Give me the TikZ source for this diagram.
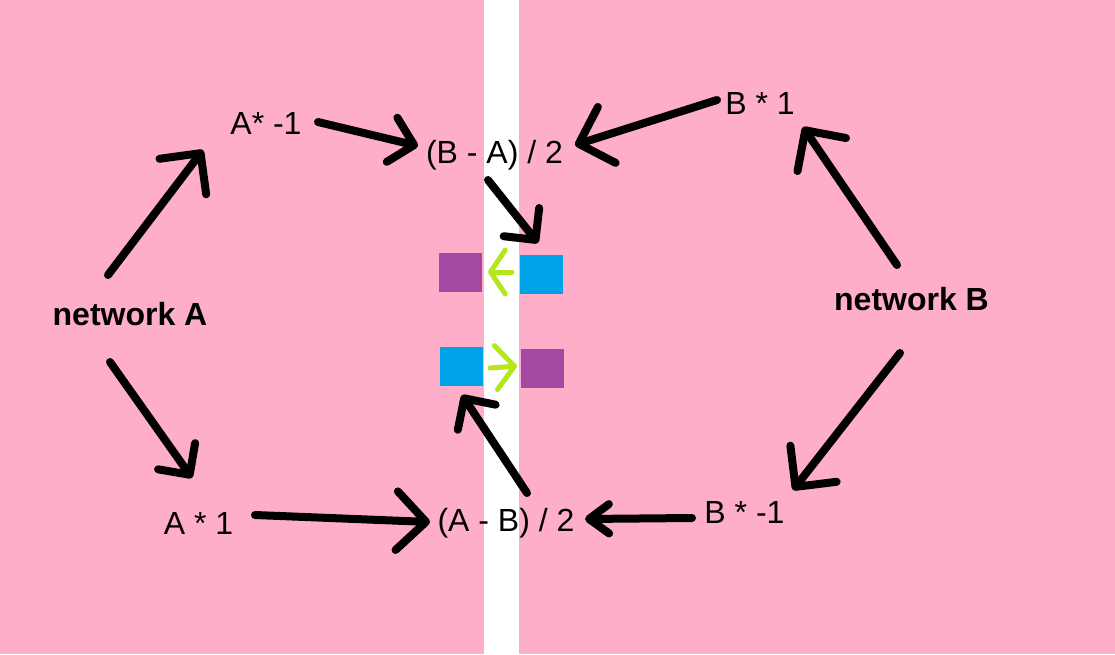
\documentclass[tikz,border=0pt]{standalone}
\usepackage{fontspec}
\setmainfont{Liberation Sans}
\usetikzlibrary{arrows.meta,calc}
\definecolor{bgpink}{HTML}{FFAEC9}
\definecolor{ppurple}{HTML}{A349A4}
\definecolor{pblue}{HTML}{00A2E8}
\definecolor{plime}{HTML}{B5E61D}
\tikzset{
  lbl/.style={inner sep=0pt, anchor=base, font=\fontsize{24}{29}\selectfont},
  blbl/.style={lbl, font=\fontsize{24}{29}\selectfont\bfseries},
  blockbox/.style={inner sep=0pt, minimum width=32.25pt, minimum height=29.25pt},
  arr/.style={line width=6pt, line cap=round, black},
  bighead/.style={-{Straight Barb[length=22pt,width=44pt,round]}},
  midhead/.style={-{Straight Barb[length=17pt,width=34pt,round]}},
  smallhead/.style={-{Straight Barb[length=15pt,width=22pt,round]}},
  garr/.style={line width=3.75pt, line cap=round, plime},
  ghead1/.style={-{Straight Barb[length=11pt,width=33pt,round]}},
  ghead2/.style={-{Straight Barb[length=14pt,width=33pt,round]}},
}
\begin{document}
\begin{tikzpicture}[x=0.75pt,y=-0.75pt]
\useasboundingbox (0,0) rectangle (1115,654);
\fill[bgpink] (0,0) rectangle (1115,654);
\fill[white] (484,0) rectangle (519,654);

% text nodes
\node[lbl]  (am1) at (266,134) {A* -1};
\node[lbl]  (ba)  at (494.5,163) {(B - A) / 2};
\node[lbl]  (b1)  at (760,114) {B * 1};
\node[blbl] (nA)  at (130,325) {network A};
\node[blbl] (nB)  at (911.5,310) {network B};
\node[lbl]  (a1)  at (198.5,534) {A * 1};
\node[lbl]  (ab)  at (506,531) {(A - B) / 2};
\node[lbl]  (bm1) at (744.5,523) {B * -1};

% colored blocks
\node[blockbox, fill=ppurple] (tpu) at (460.5,272.5) {};
\node[blockbox, fill=pblue]   (tbl) at (541.5,274.5) {};
\node[blockbox, fill=pblue]   (bbl) at (461.5,366.5) {};
\node[blockbox, fill=ppurple] (bpu) at (542.5,368.5) {};

% black arrows
\draw[arr,bighead] ($(nA.base)+(-22,-50)$) -- ($(am1.base)+(-63,16)$);
\draw[arr,midhead] ($(am1.base)+(52,-12)$) -- ($(ba.base)+(-76.5,-17)$);
\draw[arr,bighead] ($(b1.base)+(-43,-14)$) -- ($(ba.base)+(80.5,-18)$);
\draw[arr,midhead] ($(ba.base)+(-6.5,17)$) -- ($(tbl)+(-3.5,-31.5)$);
\draw[arr,bighead] ($(nB.base)+(-14.5,-45)$) -- ($(b1.base)+(43,13)$);
\draw[arr,midhead] ($(nA.base)+(-20,37)$) -- ($(a1.base)+(-6.5,-56)$);
\draw[arr,bighead] ($(a1.base)+(56.5,-19)$) -- ($(ab.base)+(-76,-9)$);
\draw[arr,smallhead] ($(bm1.base)+(-52.5,-5)$) -- ($(ab.base)+(79,-12)$);
\draw[arr,midhead] ($(ab.base)+(21,-38)$) -- ($(bbl)+(0.5,28.5)$);
\draw[arr,bighead] ($(nB.base)+(-11.5,43)$) -- ($(bm1.base)+(48.5,-33)$);

% green arrows
\draw[garr,ghead1] ($(tbl)+(-29.5,-2.5)$) -- ($(tpu)+(27.5,-0.5)$);
\draw[garr,ghead2] ($(bbl)+(28.5,1.5)$) -- ($(bpu)+(-25.5,-2.5)$);
\end{tikzpicture}
\end{document}
